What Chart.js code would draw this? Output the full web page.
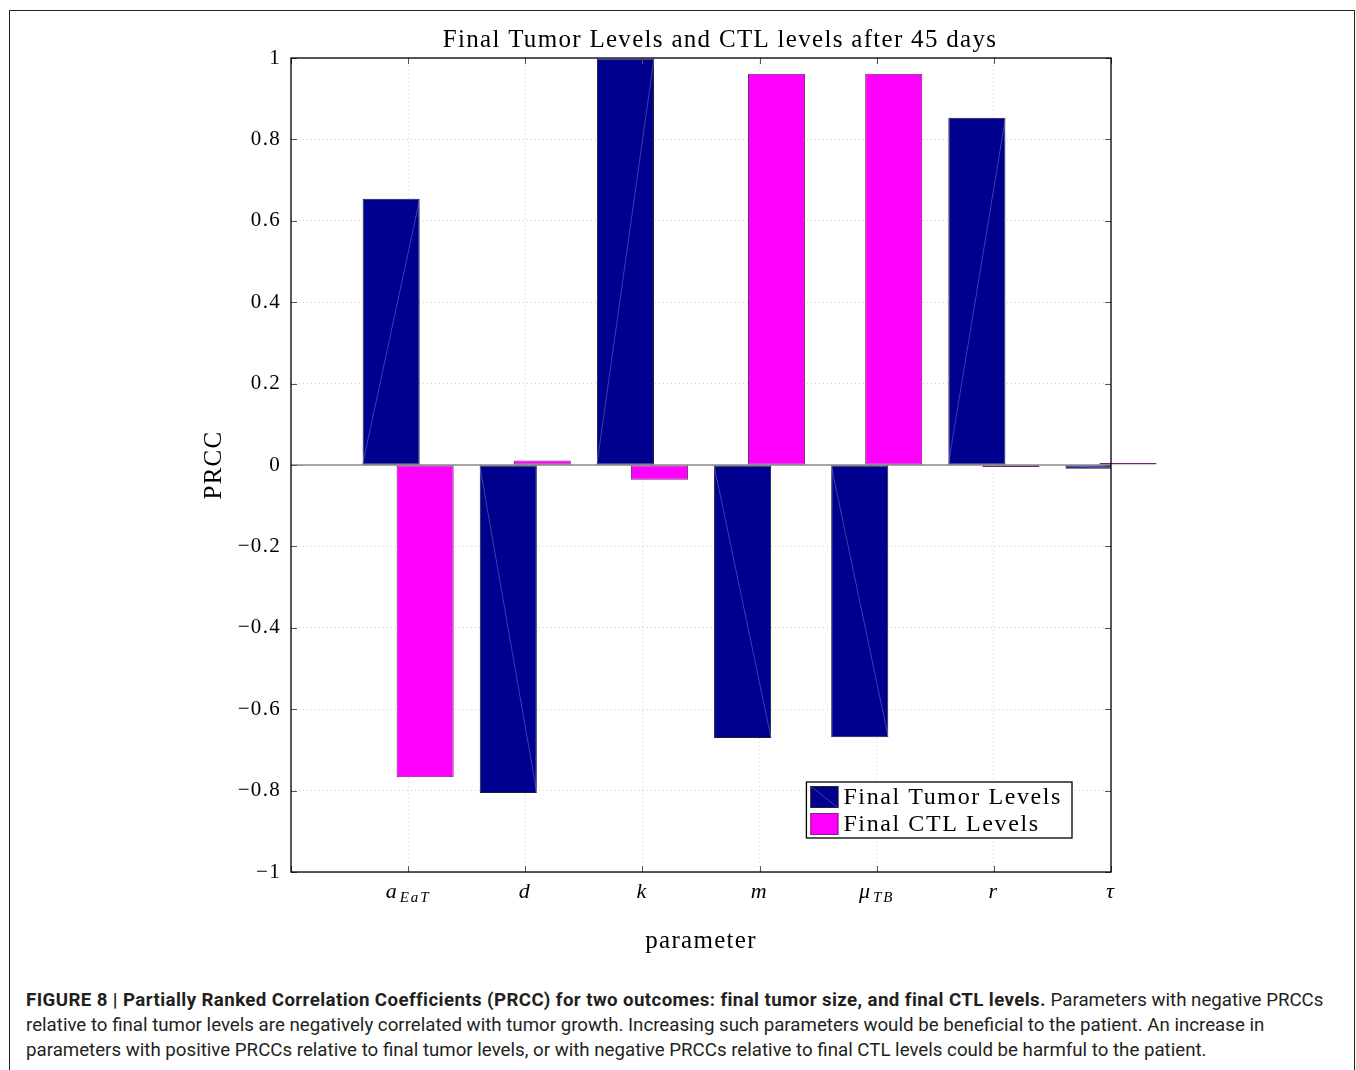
<!DOCTYPE html>
<html>
<head>
<meta charset="utf-8">
<script src="https://cdn.jsdelivr.net/npm/chart.js@4"></script>
<style>
html,body{margin:0;padding:0;background:#fff;width:1356px;height:1070px;overflow:hidden;}
#frame{position:absolute;left:9px;top:10px;width:1344px;height:1100px;border:1px solid #222;border-bottom:none;}
#wrap{position:absolute;left:0;top:0;width:1356px;height:970px;}
#caption{position:absolute;left:26px;top:988px;font-family:Roboto,"Liberation Sans",sans-serif;font-size:18.7px;line-height:25px;color:#231f20;white-space:nowrap;}
#caption b{font-weight:bold;letter-spacing:0.4px;}
</style>
</head>
<body>
<div id="frame"></div>
<div id="wrap"><canvas id="prcc" width="1356" height="970"></canvas></div>
<div id="caption"><b>FIGURE 8 | Partially Ranked Correlation Coefficients (PRCC) for two outcomes: final tumor size, and final CTL levels.</b> Parameters with negative PRCCs<br>relative to final tumor levels are negatively correlated with tumor growth. Increasing such parameters would be beneficial to the patient. An increase in<br>parameters with positive PRCCs relative to final tumor levels, or with negative PRCCs relative to final CTL levels could be harmful to the patient.</div>
<script>
var categories = ['a_EaT', 'd', 'k', 'm', 'μ_TB', 'r', 'τ'];
var tumorLevels = [0.654, -0.806, 0.999, -0.671, -0.669, 0.853, -0.009];
var ctlLevels = [-0.767, 0.011, -0.036, 0.961, 0.961, -0.002, 0.002];
var seriesNames = ['Final Tumor Levels', 'Final CTL Levels'];
var seriesColors = ['#00008f', '#ff00ff'];

var SERIF = '"Liberation Serif", "Times New Roman", serif';
Chart.defaults.color = '#000';
Chart.defaults.font.family = SERIF;

// first slot is empty so the categories sit at 1..7 on a 0..7 axis
var labels = [''].concat(categories);

var extras = {
  id: 'extras',
  beforeDraw: function(chart) {
    // Computer Modern runs wider than Times, spread the letters a bit
    chart.ctx.letterSpacing = '1.3px';
  },
  beforeDatasetsDraw: function(chart) {
    var ctx = chart.ctx, ca = chart.chartArea, y0 = chart.scales.y.getPixelForValue(0);
    ctx.save();
    ctx.strokeStyle = '#8a8a8a';
    ctx.lineWidth = 1.5;
    ctx.beginPath();
    ctx.moveTo(ca.left, y0); ctx.lineTo(ca.right, y0);
    ctx.stroke();
    ctx.restore();
  },
  afterDatasetsDraw: function(chart) {
    var ctx = chart.ctx, ca = chart.chartArea;
    var xs = chart.scales.x, ys = chart.scales.y;
    ctx.save();

    // the faint diagonal seam seen inside the tumour bars
    ctx.save();
    ctx.beginPath();
    ctx.rect(ca.left, ca.top, ca.right - ca.left, ca.bottom - ca.top);
    ctx.clip();
    ctx.strokeStyle = 'rgba(140,140,220,0.55)';
    ctx.lineWidth = 0.8;
    ctx.beginPath();
    chart.getDatasetMeta(0).data.forEach(function(bar) {
      if (bar.skip || isNaN(bar.y)) return;
      var l = bar.x - bar.width / 2, r = bar.x + bar.width / 2;
      ctx.moveTo(l, bar.base); ctx.lineTo(r, bar.y);
    });
    ctx.stroke();
    ctx.restore();

    // ticks pointing inwards
    ctx.strokeStyle = '#555';
    ctx.lineWidth = 1;
    ctx.beginPath();
    ys.ticks.forEach(function(t) {
      var y = Math.round(ys.getPixelForValue(t.value)) + 0.5;
      ctx.moveTo(ca.left, y); ctx.lineTo(ca.left + 6, y);
      ctx.moveTo(ca.right, y); ctx.lineTo(ca.right - 6, y);
    });
    for (var i = 0; i < labels.length; i++) {
      var x = Math.round(xs.getPixelForValue(i)) + 0.5;
      ctx.moveTo(x, ca.bottom); ctx.lineTo(x, ca.bottom - 6);
      ctx.moveTo(x, ca.top); ctx.lineTo(x, ca.top + 6);
    }
    ctx.stroke();
    // axis box
    ctx.strokeStyle = '#000';
    ctx.lineWidth = 1.3;
    ctx.strokeRect(ca.left, ca.top, ca.right - ca.left, ca.bottom - ca.top);

    // category labels with subscripts
    ctx.fillStyle = '#000';
    ctx.textBaseline = 'alphabetic';
    ctx.textAlign = 'left';
    ctx.letterSpacing = '2px';
    categories.forEach(function(c, k) {
      var parts = c.split('_');
      ctx.font = 'italic 22px ' + SERIF;
      var w0 = ctx.measureText(parts[0]).width;
      var w1 = 0;
      if (parts[1]) { ctx.font = 'italic 15px ' + SERIF; w1 = ctx.measureText(parts[1]).width + 1; }
      var px = xs.getPixelForValue(k + 1) - (w0 + w1) / 2;
      ctx.font = 'italic 22px ' + SERIF;
      ctx.fillText(parts[0], px, ca.bottom + 26);
      if (parts[1]) {
        ctx.font = 'italic 15px ' + SERIF;
        ctx.fillText(parts[1], px + w0 + 1, ca.bottom + 30);
      }
    });

    // legend box inside plot
    ctx.letterSpacing = '1.6px';
    ctx.font = '24px ' + SERIF;
    var tw = 0;
    seriesNames.forEach(function(n) { tw = Math.max(tw, ctx.measureText(n).width); });
    var bw = 4 + 28 + 5 + tw + 10, bh = 56;
    var right = ca.right - 39, bottom = ca.bottom - 34;
    var left = right - bw, top = bottom - bh;
    ctx.fillStyle = '#fff';
    ctx.fillRect(left, top, bw, bh);
    ctx.strokeStyle = '#000';
    ctx.lineWidth = 1.3;
    ctx.strokeRect(left, top, bw, bh);
    ctx.textBaseline = 'middle';
    seriesNames.forEach(function(n, k) {
      var ry = top + 4 + k * 27;
      ctx.fillStyle = seriesColors[k];
      ctx.fillRect(left + 4, ry, 28, 22);
      if (k === 0) {
        ctx.strokeStyle = 'rgba(140,140,220,0.55)';
        ctx.lineWidth = 0.8;
        ctx.beginPath();
        ctx.moveTo(left + 4, ry); ctx.lineTo(left + 32, ry + 22);
        ctx.stroke();
      }
      ctx.strokeStyle = k === 0 ? '#222' : '#7a2a7a';
      ctx.lineWidth = 1;
      ctx.strokeRect(left + 4.5, ry + 0.5, 27, 21);
      ctx.fillStyle = '#000';
      ctx.fillText(n, left + 37, ry + 12);
    });
    ctx.restore();
  }
};

new Chart(document.getElementById('prcc'), {
  type: 'bar',
  data: {
    labels: labels,
    datasets: [
      {
        label: seriesNames[0],
        data: [null].concat(tumorLevels),
        backgroundColor: seriesColors[0],
        borderColor: '#1a1a3a',
        borderWidth: 1,
        borderSkipped: false,
        minBarLength: 2,
        clip: 0
      },
      {
        label: seriesNames[1],
        data: [null].concat(ctlLevels),
        backgroundColor: seriesColors[1],
        borderColor: '#6a2a6a',
        borderWidth: 1,
        borderSkipped: false,
        minBarLength: 2,
        clip: false
      }
    ]
  },
  options: {
    responsive: false,
    animation: false,
    devicePixelRatio: 1,
    categoryPercentage: 0.58,
    barPercentage: 1.68,
    layout: { padding: { left: 198, right: 114, top: 20, bottom: 8 } },
    plugins: {
      legend: { display: false },
      tooltip: { enabled: false },
      title: {
        display: true,
        text: 'Final Tumor Levels and CTL levels after 45 days',
        font: { size: 25, weight: 'normal' },
        padding: { top: 5, bottom: 3 }
      }
    },
    scales: {
      x: {
        offset: false,
        grid: { color: '#cfcfcf', drawTicks: false, offset: false },
        border: { display: false, dash: [1, 3] },
        ticks: { display: false },
        title: { display: true, text: 'parameter', font: { size: 25 }, padding: { top: 0, bottom: 6 } },
        afterFit: function(s) { s.height = 90; }
      },
      y: {
        min: -1,
        max: 1,
        grid: { color: '#cfcfcf', drawTicks: false },
        border: { display: false, dash: [1, 3] },
        ticks: {
          stepSize: 0.2,
          padding: 10,
          font: { size: 21 },
          callback: function(v) { return String(Math.round(v * 10) / 10).replace('-', '\u2212'); }
        },
        title: { display: true, text: 'PRCC', font: { size: 25 }, padding: { top: 1, bottom: 0 } },
        afterFit: function(s) { s.width = 93; }
      },
      y2: {
        position: 'right',
        display: true,
        grid: { display: false },
        border: { display: false },
        ticks: { display: false },
        afterFit: function(s) { s.width = 131; }
      }
    }
  },
  plugins: [extras]
});
</script>
</body>
</html>
